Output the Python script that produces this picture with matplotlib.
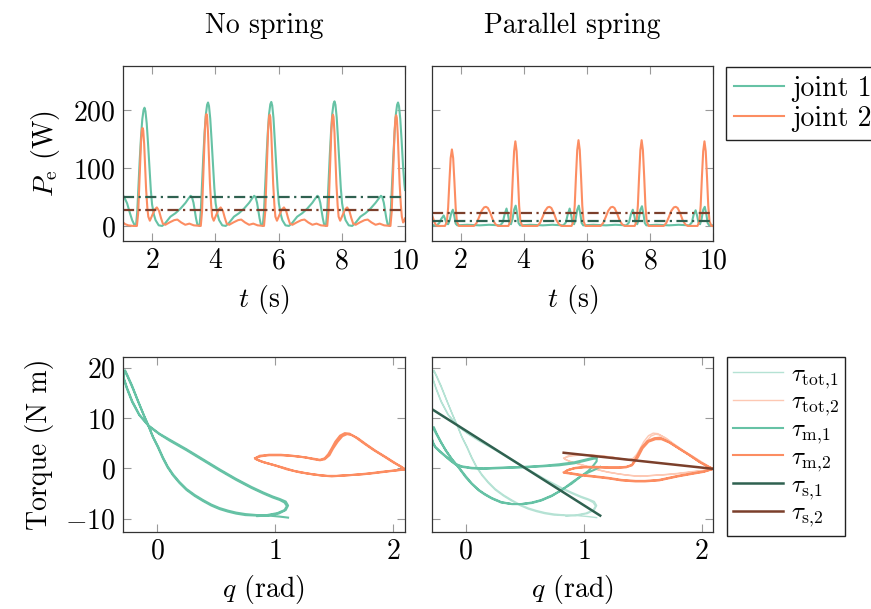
import numpy as np
import matplotlib
matplotlib.use('Agg')
import matplotlib.pyplot as plt
from matplotlib.lines import Line2D

plt.rcParams.update({
    'font.family': 'serif',
    'font.serif': ['cmr10'],
    'mathtext.fontset': 'cm',
    'axes.formatter.use_mathtext': True,
    'font.size': 20,
})

C1 = '#66c2a5'
C2 = '#fc8d62'
L1 = '#b5e2d4'
L2 = '#fdc8b3'
D1 = '#2f6150'
D2 = '#7b3f2b'

# ---- top row: electrical power (t [s], P_e [W]) ----
ns_joint1 = np.array([
    (1.08, 53), (1.15, 46), (1.21, 39), (1.30, 22), (1.37, 10), (1.44, 2), (1.49, 0), (1.53, 24), (1.57, 70),
    (1.61, 115), (1.65, 154), (1.69, 184), (1.73, 200), (1.76, 204), (1.79, 198), (1.83, 177), (1.87, 144),
    (1.92, 98), (1.96, 62), (2.00, 37), (2.06, 19), (2.11, 10), (2.21, 1), (2.32, 0), (2.42, 5), (2.58, 16),
    (2.74, 22), (2.90, 30), (3.06, 40), (3.16, 48), (3.22, 52), (3.26, 50), (3.31, 40), (3.35, 27), (3.39, 13),
    (3.43, 3), (3.50, 0),
    (3.54, 25), (3.58, 73), (3.62, 120), (3.66, 160), (3.70, 192), (3.74, 209), (3.77, 213), (3.80, 207),
    (3.84, 185), (3.88, 150), (3.93, 102), (3.97, 65), (4.01, 39), (4.07, 20), (4.12, 10), (4.22, 1), (4.33, 0),
    (4.43, 5), (4.59, 16), (4.75, 22), (4.91, 30), (5.07, 40), (5.17, 48), (5.23, 52), (5.27, 50), (5.32, 40),
    (5.36, 27), (5.40, 13), (5.44, 3), (5.50, 0),
    (5.54, 25), (5.58, 73), (5.62, 120), (5.66, 161), (5.70, 193), (5.74, 210), (5.77, 214), (5.80, 208),
    (5.84, 186), (5.88, 150), (5.93, 102), (5.97, 65), (6.01, 39), (6.07, 20), (6.12, 10), (6.22, 1), (6.33, 0),
    (6.43, 5), (6.59, 16), (6.75, 22), (6.91, 30), (7.07, 40), (7.17, 48), (7.23, 52), (7.27, 50), (7.32, 40),
    (7.36, 27), (7.40, 13), (7.44, 3), (7.50, 0),
    (7.54, 25), (7.58, 73), (7.62, 121), (7.66, 162), (7.70, 194), (7.74, 211), (7.77, 215), (7.80, 209),
    (7.84, 187), (7.88, 151), (7.93, 102), (7.97, 65), (8.01, 39), (8.07, 20), (8.12, 10), (8.22, 1), (8.33, 0),
    (8.43, 5), (8.59, 16), (8.75, 22), (8.91, 30), (9.07, 40), (9.18, 48), (9.24, 52), (9.28, 50), (9.33, 40),
    (9.37, 27), (9.41, 13), (9.45, 3), (9.51, 0),
    (9.55, 25), (9.59, 73), (9.63, 120), (9.67, 160), (9.71, 192), (9.75, 209), (9.78, 213), (9.81, 207),
    (9.85, 185), (9.89, 150), (9.94, 102), (9.98, 72), (10.0, 62),
])

ns_joint2 = np.array([
    (1.08, 6), (1.15, 3), (1.25, 1), (1.40, 0), (1.52, 0), (1.56, 22), (1.59, 64), (1.62, 105), (1.65, 145),
    (1.68, 166), (1.70, 169), (1.72, 165), (1.75, 141), (1.78, 101), (1.81, 64), (1.85, 31), (1.88, 16),
    (1.93, 9), (2.00, 18), (2.08, 28), (2.15, 32), (2.22, 26), (2.28, 14), (2.34, 4), (2.42, 2), (2.55, 6),
    (2.70, 10), (2.80, 11), (2.92, 6), (3.05, 2), (3.18, 4), (3.32, 1), (3.54, 0),
    (3.58, 25), (3.61, 73), (3.64, 120), (3.67, 165), (3.70, 189), (3.72, 193), (3.74, 189), (3.77, 160),
    (3.80, 115), (3.83, 73), (3.87, 35), (3.90, 16), (3.95, 9), (4.02, 18), (4.10, 28), (4.17, 32), (4.24, 26),
    (4.30, 14), (4.36, 4), (4.44, 2), (4.57, 6), (4.72, 10), (4.82, 11), (4.94, 6), (5.07, 2), (5.20, 4),
    (5.34, 1), (5.54, 0),
    (5.58, 25), (5.61, 73), (5.64, 120), (5.67, 165), (5.70, 188), (5.72, 192), (5.74, 188), (5.77, 160),
    (5.80, 115), (5.83, 73), (5.87, 35), (5.90, 16), (5.95, 9), (6.02, 18), (6.10, 28), (6.17, 32), (6.24, 26),
    (6.30, 14), (6.36, 4), (6.44, 2), (6.57, 6), (6.72, 10), (6.82, 11), (6.94, 6), (7.07, 2), (7.20, 4),
    (7.34, 1), (7.54, 0),
    (7.58, 25), (7.61, 73), (7.64, 120), (7.67, 165), (7.70, 188), (7.72, 192), (7.74, 188), (7.77, 160),
    (7.80, 115), (7.83, 73), (7.87, 35), (7.90, 16), (7.95, 9), (8.02, 18), (8.10, 28), (8.17, 32), (8.24, 26),
    (8.30, 14), (8.36, 4), (8.44, 2), (8.57, 6), (8.72, 10), (8.82, 11), (8.94, 6), (9.07, 2), (9.20, 4),
    (9.34, 1), (9.54, 0),
    (9.58, 25), (9.61, 73), (9.64, 120), (9.67, 164), (9.70, 187), (9.72, 191), (9.74, 187), (9.77, 159),
    (9.80, 114), (9.83, 73), (9.87, 35), (9.90, 16), (9.94, 6), (9.97, 8), (10.0, 13),
])

ps_joint1 = np.array([
    (1.07, 2), (1.15, 1), (1.24, 1), (1.32, 5), (1.38, 12), (1.46, 18), (1.51, 11), (1.55, 4), (1.60, 3),
    (1.65, 10), (1.70, 22), (1.75, 28), (1.80, 16), (1.84, 4), (1.89, 1), (2.2, 2), (2.6, 1), (2.9, 2), (3.25, 1),
    (3.33, 6), (3.39, 20), (3.45, 30), (3.50, 18), (3.54, 6), (3.59, 3), (3.64, 12), (3.69, 28), (3.74, 35),
    (3.79, 20), (3.83, 5), (3.88, 1), (4.2, 2), (4.6, 1), (4.9, 2), (5.25, 1),
    (5.33, 6), (5.39, 20), (5.45, 30), (5.50, 18), (5.54, 6), (5.59, 3), (5.64, 12), (5.69, 28), (5.74, 35),
    (5.79, 20), (5.83, 5), (5.88, 1), (6.2, 2), (6.6, 1), (6.9, 2), (7.25, 1),
    (7.33, 6), (7.39, 20), (7.45, 28), (7.50, 17), (7.54, 6), (7.59, 3), (7.64, 12), (7.69, 28), (7.74, 34),
    (7.79, 20), (7.83, 5), (7.88, 1), (8.2, 2), (8.6, 1), (8.9, 2), (9.24, 1),
    (9.32, 6), (9.38, 20), (9.44, 27), (9.49, 17), (9.53, 6), (9.58, 3), (9.63, 12), (9.68, 28), (9.73, 33),
    (9.78, 20), (9.82, 5), (9.87, 1), (10.0, 1),
])

ps_joint2 = np.array([
    (1.07, 22), (1.12, 14), (1.17, 6), (1.22, 1), (1.30, 0), (1.50, 0),
    (1.56, 7), (1.60, 31), (1.64, 76), (1.68, 117), (1.72, 132), (1.76, 117), (1.80, 76), (1.84, 31), (1.88, 7),
    (1.94, 0), (2.42, 0), (2.50, 5), (2.58, 15), (2.66, 26), (2.74, 32), (2.80, 33), (2.86, 31), (2.94, 22),
    (3.02, 10), (3.10, 3), (3.18, 0), (3.51, 0),
    (3.57, 8), (3.61, 35), (3.65, 85), (3.69, 129), (3.73, 146), (3.77, 129), (3.81, 85), (3.85, 35), (3.89, 8),
    (3.95, 0), (4.43, 0), (4.51, 5), (4.59, 15), (4.67, 26), (4.75, 32), (4.81, 33), (4.87, 31), (4.95, 22),
    (5.03, 10), (5.11, 3), (5.19, 0), (5.51, 0),
    (5.57, 8), (5.61, 35), (5.65, 86), (5.69, 131), (5.73, 148), (5.77, 131), (5.81, 86), (5.85, 35), (5.89, 8),
    (5.95, 0), (6.43, 0), (6.51, 5), (6.59, 15), (6.67, 26), (6.75, 32), (6.81, 33), (6.87, 31), (6.95, 22),
    (7.03, 10), (7.11, 3), (7.19, 0), (7.51, 0),
    (7.57, 8), (7.61, 35), (7.65, 86), (7.69, 131), (7.73, 148), (7.77, 131), (7.81, 86), (7.85, 35), (7.89, 8),
    (7.95, 0), (8.43, 0), (8.51, 5), (8.59, 15), (8.67, 26), (8.75, 32), (8.81, 33), (8.87, 31), (8.95, 22),
    (9.03, 10), (9.11, 3), (9.19, 0), (9.50, 0),
    (9.56, 8), (9.60, 35), (9.64, 85), (9.68, 129), (9.72, 146), (9.76, 129), (9.80, 85), (9.84, 35), (9.88, 8),
    (9.94, 0), (10.0, 0),
])

# mean power (dash-dotted)
ns_mean = [50, 27.5]
ps_mean = [8, 21.5]

# ---- bottom row: torque vs joint angle (q [rad], tau [N m]) ----
ns_tau1 = np.array([
    (1.11, -9.8), (1.04, -9.6), (0.95, -9.4), (0.85, -9.3), (0.75, -9.1), (0.67, -8.8), (0.60, -8.4),
    (0.53, -7.9), (0.46, -7.2), (0.39, -6.3), (0.32, -5.3), (0.25, -4.1), (0.19, -2.7), (0.136, -1.2),
    (0.09, 0.4), (0.05, 2.2), (0.01, 4.3), (-0.034, 6.3), (-0.07, 8.4), (-0.11, 10.5), (-0.16, 13.3),
    (-0.21, 16.2), (-0.25, 18.3), (-0.272, 19.3), (-0.285, 19.0), (-0.28, 17.7), (-0.255, 15.9), (-0.21, 13.2),
    (-0.15, 10.6), (-0.07, 8.4), (0.02, 6.8), (0.108, 5.5), (0.25, 3.6), (0.39, 1.6), (0.53, -0.4),
    (0.67, -2.3), (0.80, -3.9), (0.90, -5.0), (0.98, -5.8), (1.04, -6.3), (1.08, -6.8), (1.10, -7.5),
    (1.08, -8.3), (1.02, -8.9), (0.93, -9.3),
    (0.85, -9.4), (0.75, -9.3), (0.67, -9.0), (0.60, -8.6), (0.53, -8.1), (0.46, -7.4), (0.39, -6.5),
    (0.32, -5.5), (0.25, -4.3), (0.19, -2.9), (0.136, -1.4), (0.09, 0.2), (0.05, 2.0), (0.01, 4.1),
    (-0.034, 6.2), (-0.07, 8.3), (-0.11, 10.5), (-0.16, 13.4), (-0.21, 16.4), (-0.25, 18.5), (-0.27, 19.5),
    (-0.285, 19.1), (-0.28, 17.9), (-0.255, 16.1), (-0.21, 13.4), (-0.15, 10.7), (-0.07, 8.5), (0.02, 6.9),
    (0.108, 5.7), (0.25, 3.8), (0.39, 1.8), (0.53, -0.2), (0.67, -2.1), (0.80, -3.7), (0.90, -4.8),
    (0.98, -5.6), (1.04, -6.1), (1.09, -6.6), (1.11, -7.4), (1.09, -8.3), (1.03, -9.0), (0.93, -9.4),
    (0.85, -9.5),
])

ns_tau2 = np.array([
    (0.83, 2.0), (0.88, 2.4), (0.95, 2.6), (1.05, 2.6), (1.15, 2.45), (1.25, 2.2), (1.33, 1.9), (1.38, 1.7),
    (1.42, 2.0), (1.45, 2.8), (1.48, 4.0), (1.51, 5.3), (1.55, 6.5), (1.59, 7.0), (1.63, 6.9), (1.68, 6.2),
    (1.75, 5.0), (1.83, 3.7), (1.92, 2.4), (2.00, 1.2), (2.06, 0.4), (2.10, -0.2), (2.05, -0.3), (1.98, -0.5),
    (1.90, -0.7), (1.80, -1.0), (1.66, -1.3), (1.52, -1.5), (1.44, -1.5), (1.32, -1.2), (1.21, -0.8),
    (1.10, -0.2), (1.01, 0.5), (0.92, 1.1), (0.86, 1.6), (0.83, 2.0),
    (0.87, 2.5), (0.95, 2.7), (1.05, 2.7), (1.15, 2.5), (1.25, 2.2), (1.33, 1.8), (1.38, 1.6), (1.42, 1.8),
    (1.46, 2.6), (1.49, 3.9), (1.53, 5.3), (1.57, 6.4), (1.61, 6.8), (1.65, 6.6), (1.70, 6.0), (1.77, 4.8),
    (1.85, 3.5), (1.94, 2.2), (2.02, 1.0), (2.07, 0.3), (2.10, -0.2), (2.04, -0.4), (1.96, -0.6), (1.86, -0.9),
    (1.74, -1.2), (1.60, -1.4), (1.48, -1.6), (1.38, -1.4), (1.27, -1.0), (1.16, -0.5), (1.06, 0.2),
    (0.97, 0.8), (0.89, 1.3), (0.84, 1.8),
])

# parallel spring: total torque looks the same as the no-spring motor torque
ps_tot1 = ns_tau1
ps_tot2 = ns_tau2

ps_m1 = np.array([
    (1.14, 0.3), (1.09, -0.3), (1.04, -0.8), (0.98, -1.5), (0.90, -2.8), (0.82, -4.2), (0.73, -5.5),
    (0.64, -6.4), (0.56, -6.9), (0.48, -7.1), (0.39, -7.1), (0.30, -6.7), (0.22, -5.9), (0.16, -5.1),
    (0.11, -4.3), (0.05, -3.0), (0.0, -1.6), (-0.06, 0.2), (-0.12, 1.9), (-0.17, 3.6), (-0.21, 5.1),
    (-0.25, 6.8), (-0.275, 7.9), (-0.29, 7.6), (-0.295, 6.3), (-0.28, 5.1), (-0.26, 4.2), (-0.22, 3.3),
    (-0.175, 2.4), (-0.13, 1.5), (-0.09, 0.8), (-0.035, 0.3), (0.05, 0.0), (0.15, -0.1), (0.25, 0.0),
    (0.36, 0.1), (0.50, 0.2), (0.65, 0.4), (0.79, 0.6), (0.92, 1.0), (1.01, 1.5), (1.08, 1.9), (1.11, 2.0),
    (1.11, 1.4), (1.08, 0.5), (1.04, -0.5), (0.97, -1.7), (0.90, -3.0), (0.80, -4.5), (0.73, -5.4),
    (0.64, -6.3), (0.56, -6.8), (0.47, -7.1), (0.39, -7.1), (0.30, -6.8), (0.22, -6.0), (0.16, -5.2),
    (0.11, -4.4), (0.05, -3.1), (0.0, -1.8), (-0.06, 0.1), (-0.12, 1.8), (-0.17, 3.5), (-0.21, 5.2),
    (-0.25, 7.0), (-0.272, 8.2), (-0.288, 7.8), (-0.295, 6.5), (-0.28, 5.2), (-0.26, 4.3), (-0.22, 3.4),
    (-0.175, 2.5), (-0.13, 1.6), (-0.09, 0.9), (-0.035, 0.4), (0.05, 0.1), (0.15, 0.0), (0.25, 0.1),
    (0.36, 0.2), (0.50, 0.3), (0.65, 0.5), (0.79, 0.8), (0.92, 1.2), (1.01, 1.7), (1.08, 2.1), (1.11, 2.2),
])

ps_m2 = np.array([
    (0.83, -0.8), (0.87, -0.3), (0.93, 0.1), (1.01, 0.3), (1.10, 0.3), (1.21, 0.2), (1.30, 0.2), (1.36, 0.3),
    (1.41, 0.7), (1.45, 2.3), (1.49, 4.1), (1.54, 5.4), (1.60, 6.0), (1.65, 6.1), (1.72, 5.3), (1.80, 4.1),
    (1.88, 2.9), (1.98, 1.3), (2.05, 0.4), (2.10, -0.1), (2.02, -0.6), (1.92, -1.0), (1.80, -1.5),
    (1.64, -2.3), (1.52, -2.5), (1.44, -2.5), (1.32, -2.3), (1.21, -1.9), (1.10, -1.6), (0.98, -1.3),
    (0.90, -1.0), (0.84, -0.8),
    (0.86, -0.4), (0.92, 0.0), (1.01, 0.2), (1.10, 0.2), (1.21, 0.1), (1.30, 0.1), (1.36, 0.2), (1.41, 0.6),
    (1.46, 2.2), (1.50, 4.0), (1.55, 5.3), (1.61, 5.8), (1.66, 5.8), (1.73, 5.1), (1.81, 3.9), (1.90, 2.6),
    (1.99, 1.2), (2.06, 0.3), (2.10, -0.1), (2.02, -0.7), (1.92, -1.1), (1.80, -1.6), (1.64, -2.4),
    (1.52, -2.6), (1.44, -2.6), (1.32, -2.4), (1.21, -2.0), (1.10, -1.7), (0.98, -1.4), (0.90, -1.1),
    (0.84, -0.9),
])

ps_s1 = np.array([(-0.29, 11.8), (1.14, -9.4)])
ps_s2 = np.array([(0.83, 3.1), (2.10, -0.1)])

# ---- layout (pixel boxes of the reference) ----
W, H = 871, 609
fig = plt.figure(figsize=(W / 100, H / 100), dpi=100)


def box(x0, y0, x1, y1):
    return [x0 / W, 1 - y1 / H, (x1 - x0) / W, (y1 - y0) / H]


ax1 = fig.add_axes(box(123, 66, 405, 241))
ax2 = fig.add_axes(box(431.7, 66, 713.3, 241))
ax3 = fig.add_axes(box(122.7, 356.7, 405, 531.7))
ax4 = fig.add_axes(box(431.7, 356.7, 713.3, 531.7))

dashdot = (0, (5, 2, 1, 2))
lw = 1.5

for ax, j1, j2, means in [(ax1, ns_joint1, ns_joint2, ns_mean), (ax2, ps_joint1, ps_joint2, ps_mean)]:
    ax.plot(j1[:, 0], j1[:, 1], color=C1, lw=lw)
    ax.plot(j2[:, 0], j2[:, 1], color=C2, lw=lw)
    ax.axhline(means[0], color=D1, lw=1.6, ls=dashdot)
    ax.axhline(means[1], color=D2, lw=1.6, ls=dashdot)
    ax.set_xlim(1.08, 10)
    ax.set_ylim(-26, 276)
    ax.set_xticks([2, 4, 6, 8, 10])
    ax.set_yticks([0, 100, 200])
    ax.set_xlabel(r'$t$ (s)', labelpad=6)

ax3.plot(ns_tau1[:, 0], ns_tau1[:, 1], color=C1, lw=lw)
ax3.plot(ns_tau2[:, 0], ns_tau2[:, 1], color=C2, lw=lw)

ax4.plot(ps_tot1[:, 0], ps_tot1[:, 1], color=L1, lw=1.0)
ax4.plot(ps_tot2[:, 0], ps_tot2[:, 1], color=L2, lw=1.0)
ax4.plot(ps_m1[:, 0], ps_m1[:, 1], color=C1, lw=lw)
ax4.plot(ps_m2[:, 0], ps_m2[:, 1], color=C2, lw=lw)
ax4.plot(ps_s1[:, 0], ps_s1[:, 1], color=D1, lw=1.8)
ax4.plot(ps_s2[:, 0], ps_s2[:, 1], color=D2, lw=1.8)

for ax in (ax3, ax4):
    ax.set_xlim(-0.29, 2.10)
    ax.set_ylim(-12.6, 22.2)
    ax.set_xticks([0, 1, 2])
    ax.set_yticks([-10, 0, 10, 20])
    ax.set_xlabel(r'$q$ (rad)', labelpad=6)

for ax in (ax1, ax2, ax3, ax4):
    ax.tick_params(direction='in', top=True, right=True, length=6, width=0.8,
                   color='#9a9a9a', labelsize=20, pad=5)
    for s in ax.spines.values():
        s.set_color('#333333')
        s.set_linewidth(0.9)

ax2.tick_params(labelleft=False)
ax4.tick_params(labelleft=False)

ax1.set_ylabel(r'$P_\mathrm{e}$ (W)', labelpad=8)
ax3.set_ylabel('Torque (N m)', labelpad=8)

fig.text(264 / W, 1 - 33 / H, 'No spring', ha='center', va='baseline')
fig.text(572 / W, 1 - 33 / H, 'Parallel spring', ha='center', va='baseline')

h_top = [Line2D([], [], color=C1, lw=lw), Line2D([], [], color=C2, lw=lw)]
fig.legend(h_top, ['joint 1', 'joint 2'], loc='upper left',
           bbox_to_anchor=(726 / W, 1 - 67 / H), bbox_transform=fig.transFigure,
           fancybox=False, edgecolor='#222222', framealpha=1, borderaxespad=0,
           handlelength=1.8, handletextpad=0.3, borderpad=0.3, labelspacing=0.15)

h_bot = [Line2D([], [], color=L1, lw=1.0), Line2D([], [], color=L2, lw=1.0),
         Line2D([], [], color=C1, lw=lw), Line2D([], [], color=C2, lw=lw),
         Line2D([], [], color=D1, lw=1.8), Line2D([], [], color=D2, lw=1.8)]
lab_bot = [r'$\tau_\mathrm{tot{,}1}$', r'$\tau_\mathrm{tot{,}2}$', r'$\tau_\mathrm{m{,}1}$',
           r'$\tau_\mathrm{m{,}2}$', r'$\tau_\mathrm{s{,}1}$', r'$\tau_\mathrm{s{,}2}$']
fig.legend(h_bot, lab_bot, loc='upper left',
           bbox_to_anchor=(727 / W, 1 - 357 / H), bbox_transform=fig.transFigure,
           fancybox=False, edgecolor='#222222', framealpha=1, borderaxespad=0, fontsize=18,
           handlelength=2.0, handletextpad=0.3, borderpad=0.25, labelspacing=0.02)

fig.savefig('out.png', dpi=100)
